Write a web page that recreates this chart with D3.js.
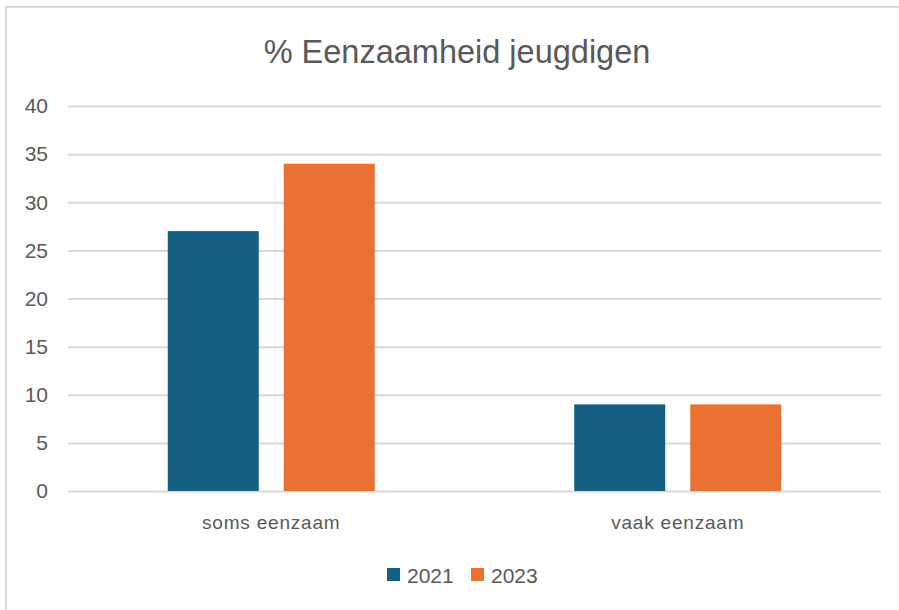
<head>
    <script src="https://d3js.org/d3.v7.min.js"></script>
    <style>
        body { margin: 0; background: white; }
        text { font-family: "Liberation Sans", Arial, sans-serif; fill: #595959; }
        .grid line { stroke: #d9d9d9; stroke-width: 2; }
        .grid .domain { stroke: none; }
    </style>
</head>
<body>
    <svg id="chart" width="899" height="610"></svg>
    <script>
        // data
        const categories = ["soms eenzaam", "vaak eenzaam"];
        const years = ["2021", "2023"];
        const values2021 = [27, 9];
        const values2023 = [34, 9];
        const yTicks = [0, 5, 10, 15, 20, 25, 30, 35, 40];
        const colors = ["#156082", "#E97132"];

        const svg = d3.select("svg#chart");
        const margin = {top: 106, right: 18, bottom: 119, left: 68};
        const width = +svg.attr("width");
        const height = +svg.attr("height");
        const chartWidth = width - margin.left - margin.right;
        const chartHeight = height - margin.top - margin.bottom;

        // chart border
        svg.append("rect")
            .attr("x", 6).attr("y", 7)
            .attr("width", 910).attr("height", 620)
            .attr("fill", "none")
            .attr("stroke", "#d9d9d9")
            .attr("stroke-width", 2);

        svg.append("text")
            .attr("x", 457).attr("y", 63)
            .attr("text-anchor", "middle")
            .attr("font-size", 32.5)
            .text("% Eenzaamheid jeugdigen");

        const g = svg.append("g").attr("transform", `translate(${margin.left},${margin.top})`);

        const x = d3.scaleBand().domain(categories).range([0, chartWidth]);
        const x1 = d3.scaleBand().domain(years).range([0, 207]).paddingInner(25 / 116);
        const y = d3.scaleLinear().domain([0, 40]).range([chartHeight, 0]);

        // gridlines
        g.append("g").attr("class", "grid")
            .call(d3.axisLeft(y).tickValues(yTicks).tickSize(-chartWidth).tickFormat(""));

        // y labels
        g.selectAll(".ylab")
            .data(yTicks)
            .enter()
            .append("text")
            .attr("x", -20)
            .attr("y", d => y(d))
            .attr("dy", "0.35em")
            .attr("text-anchor", "end")
            .attr("font-size", 21)
            .text(d => d);

        const series = [values2021, values2023];
        categories.forEach((c, i) => {
            const offset = x(c) + (x.bandwidth() - 207) / 2;
            years.forEach((yr, j) => {
                g.append("rect")
                    .attr("x", offset + x1(yr))
                    .attr("y", y(series[j][i]))
                    .attr("width", x1.bandwidth())
                    .attr("height", chartHeight - y(series[j][i]))
                    .attr("fill", colors[j]);
            });
            g.append("text")
                .attr("x", x(c) + x.bandwidth() / 2)
                .attr("y", chartHeight + 38)
                .attr("text-anchor", "middle")
                .attr("font-size", 19)
                .attr("letter-spacing", 0.8)
                .text(c);
        });

        // legend
        const legend = svg.append("g");
        const legendX = [387, 471];
        years.forEach((yr, j) => {
            legend.append("rect")
                .attr("x", legendX[j]).attr("y", 568)
                .attr("width", 13).attr("height", 13)
                .attr("fill", colors[j]);
            legend.append("text")
                .attr("x", legendX[j] + 20).attr("y", 583)
                .attr("font-size", 21)
                .text(yr);
        });
    </script>
</body>
